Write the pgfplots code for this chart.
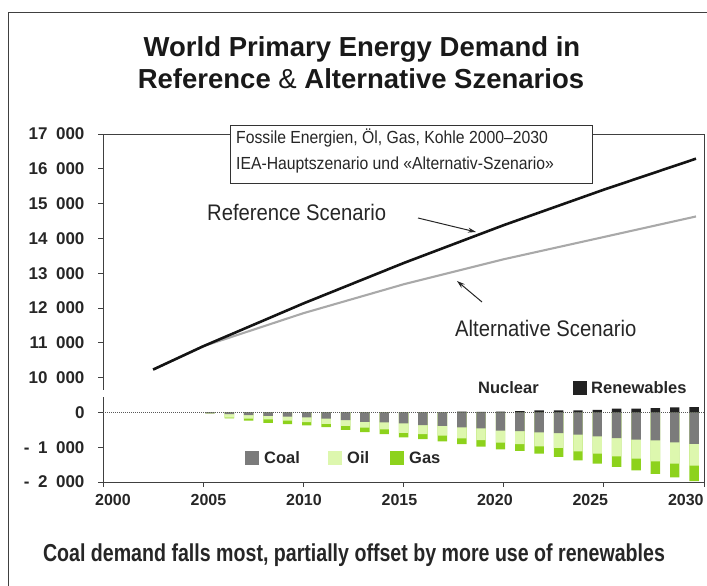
\documentclass[border=0pt]{standalone}
\usepackage{pgfplots}
\pgfplotsset{compat=1.18}
\usepackage{pgfplotstable}
\usepackage{fontspec}
\setmainfont{Liberation Sans}
\newfontfamily\narrowfont[FakeStretch=0.9]{Liberation Sans}
\newfontfamily\capfont[FakeStretch=0.80]{Liberation Sans}
\usetikzlibrary{arrows.meta}
\definecolor{coal}{HTML}{7B7B7B}
\definecolor{oil}{HTML}{DDF7AE}
\definecolor{gas}{HTML}{8DD21C}
\definecolor{ren}{HTML}{222222}
\definecolor{altline}{HTML}{A9A9A9}
\definecolor{txt}{HTML}{262626}
\newcommand{\gs}{\hspace{0.5em}}

% energy demand, Mtoe
\pgfplotstableread{
year   ref    alt
2002.5 10230  10230
2005   10900  10900
2010   12130  11850
2015   13290  12680
2020   14380  13400
2025   15400  14040
2029.6 16290  14630
}\linedata

% change vs reference scenario (alternative - reference), Mtoe
\pgfplotstableread{
year pos     coal  oil   gas   ren
2005 2005.34 -30   0     0     0
2006 2006.31 -50   -100  -20   0
2007 2007.27 -80   -100  -60   0
2008 2008.24 -100  -100  -100  0
2009 2009.21 -125  -115  -95   0
2010 2010.17 -145  -135  -95   0
2011 2011.14 -180  -150  -95   0
2012 2012.11 -220  -170  -115  0
2013 2013.07 -270  -170  -125  0
2014 2014.04 -290  -200  -135  0
2015 2015.01 -315  -270  -135  0
2016 2015.97 -365  -260  -145  0
2017 2016.94 -390  -280  -165  0
2018 2017.91 -430  -315  -170  20
2019 2018.87 -460  -335  -190  15
2020 2019.84 -525  -345  -190  25
2021 2020.81 -535  -380  -190  35
2022 2021.77 -575  -400  -210  55
2023 2022.74 -593  -430  -258  55
2024 2023.71 -640  -478  -258  57
2025 2024.67 -690  -497  -287  75
2026 2025.64 -736  -526  -306  110
2027 2026.61 -784  -545  -335  110
2028 2027.57 -803  -602  -363  125
2029 2028.54 -860  -612  -392  145
2030 2029.51 -908  -621  -449  150
}\bars

\begin{document}
\begin{tikzpicture}
\useasboundingbox (0pt,0pt) rectangle (707pt,586pt);
\draw[black!75, line width=1pt] (8pt,-5pt) -- (8pt,573pt) -- (720pt,573pt);

\begin{axis}[
  at={(103pt,104pt)}, anchor=south west,
  width=601pt, height=348pt, scale only axis,
  xmin=2000, xmax=2030, ymin=-2, ymax=8,
  xtick={2000,2005,2010,2015,2020,2025,2030},
  xticklabels={\hspace*{20pt}2000,\hspace*{10.6pt}2005,\hspace*{1.2pt}2010,2015\hspace*{8.2pt},2020\hspace*{17.6pt},2025\hspace*{27pt},2030\hspace*{36.4pt}},
  ytick={-2,-1,0,1,2,3,4,5,6,7,8},
  yticklabels={-\gs2\gs000,-\gs1\gs000,0,10\gs000,11\gs000,12\gs000,13\gs000,14\gs000,15\gs000,16\gs000,17\gs000},
  xtick pos=bottom, ytick pos=left,
  tick align=outside, major tick length=5pt,
  axis line style={black!75, line width=0.9pt},
  tick style={black!75, line width=0.9pt},
  tick label style={font=\bfseries\fontsize{16}{19}\selectfont, text=txt},
  yticklabel style={xshift=-10pt, font=\bfseries\fontsize{17}{20}\selectfont},
  xticklabel style={yshift=-4pt},
  clip=false,
]
% bars (drawn as overlapping cumulative totals)
\addplot[ybar, bar width=0.47, bar shift=0pt, fill=gas, draw=none]
  table[x=pos, y expr=(\thisrow{coal}+\thisrow{oil}+\thisrow{gas})/1000] {\bars};
\addplot[ybar, bar width=0.47, bar shift=0pt, fill=oil, draw=none]
  table[x=pos, y expr=(\thisrow{coal}+\thisrow{oil})/1000] {\bars};
\addplot[ybar, bar width=0.47, bar shift=0pt, fill=coal, draw=none]
  table[x=pos, y expr=\thisrow{coal}/1000] {\bars};
\addplot[ybar, bar width=0.47, bar shift=0pt, fill=ren, draw=none]
  table[x=pos, y expr=\thisrow{ren}/1000] {\bars};
% zero line
\draw[black!65, line width=0.7pt, dash pattern=on 1pt off 1pt] (axis cs:2000,0) -- (axis cs:2030,0);
% axis break
\draw[white, line width=3pt] (axis cs:2000,0.43) -- (axis cs:2000,0.63);
% lines
\addplot[altline, line width=2.1pt] table[x=year, y expr=\thisrow{alt}/1000-9] {\linedata};
\addplot[black!92, line width=2.6pt] table[x=year, y expr=\thisrow{ref}/1000-9] {\linedata};
\end{axis}

% title
\node[font=\bfseries\fontsize{27.5}{32}\selectfont, text=black!90] at (362pt,537pt) {World Primary Energy Demand in};
\node[font=\bfseries\fontsize{27.5}{32}\selectfont, text=black!90] at (361pt,507pt) {Reference {\mdseries\&} Alternative Szenarios};

% info box
\draw[black!80, line width=0.9pt, fill=white] (230pt,403pt) rectangle (592pt,461pt);
\node[anchor=west, font=\narrowfont\fontsize{17.5}{20}\selectfont, text=txt, inner sep=0pt] at (236pt,448pt) {Fossile Energien, Öl, Gas, Kohle 2000–2030};
\node[anchor=west, font=\narrowfont\fontsize{17.5}{20}\selectfont, text=txt, inner sep=0pt] at (236pt,421pt) {IEA-Hauptszenario und «Alternativ-Szenario»};

% scenario labels and arrows
\node[anchor=west, font=\narrowfont\fontsize{22.5}{26}\selectfont, text=txt, inner sep=0pt] at (207pt,374pt) {Reference Scenario};
\node[anchor=west, font=\narrowfont\fontsize{22.5}{26}\selectfont, text=txt, inner sep=0pt] at (455pt,258pt) {Alternative Scenario};
\draw[black!85, line width=1pt, -{Stealth[length=8pt,width=5pt]}] (418pt,368pt) -- (476pt,354pt);
\draw[black!85, line width=1pt, -{Stealth[length=8pt,width=5pt]}] (482pt,284pt) -- (457pt,305pt);

% legends
\node[anchor=west, font=\bfseries\fontsize{16.5}{19}\selectfont, text=txt, inner sep=0pt] at (478pt,198pt) {Nuclear};
\fill[ren] (573pt,191pt) rectangle (587pt,205pt);
\node[anchor=west, font=\bfseries\fontsize{16.5}{19}\selectfont, text=txt, inner sep=0pt] at (591pt,198pt) {Renewables};
\fill[coal] (245pt,121pt) rectangle (259pt,135pt);
\node[anchor=west, font=\bfseries\fontsize{16.5}{19}\selectfont, text=txt, inner sep=0pt] at (264pt,128pt) {Coal};
\fill[oil] (328pt,121pt) rectangle (342pt,135pt);
\node[anchor=west, font=\bfseries\fontsize{16.5}{19}\selectfont, text=txt, inner sep=0pt] at (347pt,128pt) {Oil};
\fill[gas] (390pt,121pt) rectangle (404pt,135pt);
\node[anchor=west, font=\bfseries\fontsize{16.5}{19}\selectfont, text=txt, inner sep=0pt] at (409pt,128pt) {Gas};

% caption
\node[font=\capfont\bfseries\fontsize{24.5}{28}\selectfont, text=txt] at (354pt,31pt) {Coal demand falls most, partially offset by more use of renewables};
\end{tikzpicture}
\end{document}
